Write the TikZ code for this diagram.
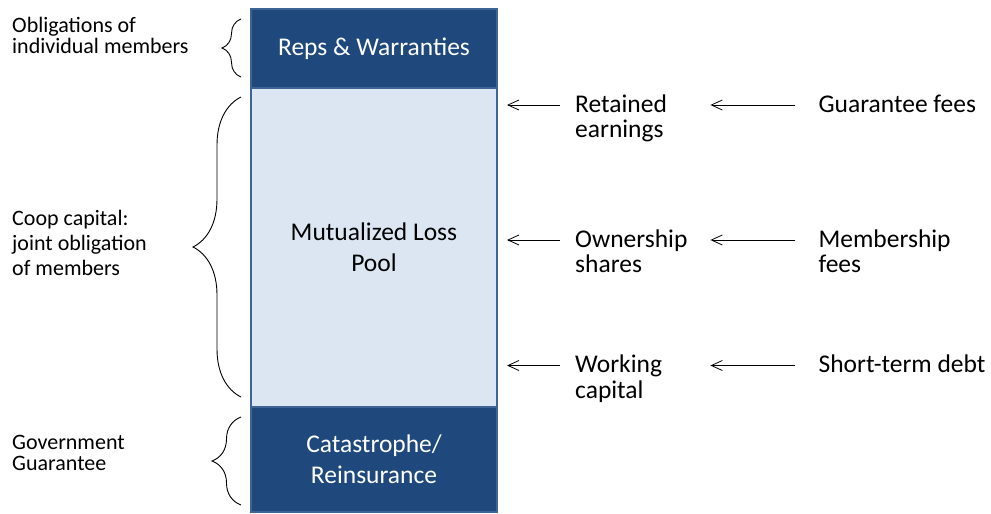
\documentclass[tikz,border=0pt]{standalone}
\usepackage{fontspec}
\setmainfont{Carlito}
\usetikzlibrary{positioning,decorations.pathreplacing,arrows.meta}
\definecolor{boxDark}{RGB}{31,73,125}
\definecolor{boxLine}{RGB}{62,100,150}
\definecolor{poolFill}{RGB}{220,230,242}
\begin{document}
\begin{tikzpicture}[x=1pt,y=-1pt,
    box/.style={draw=boxLine,line width=1.8pt,outer sep=0pt,minimum width=246pt,align=center,
      fill=boxDark,text=white,font=\fontsize{25.5}{31}\selectfont},
    pool/.style={box,fill=poolFill,text=black},
    side/.style={align=left,inner sep=0pt,anchor=north west,font=\fontsize{22}{21.5}\selectfont},
    src/.style={align=left,inner sep=0pt,anchor=north west,font=\fontsize{25.5}{25.5}\selectfont},
    feed/.style={-{Straight Barb[length=11pt,width=10pt]},line width=0.8pt},
    curly/.style={decorate,decoration={brace,amplitude=#1},line width=0.9pt}]
    \useasboundingbox (0,0) rectangle (991,514);

    \node[box,minimum height=79pt] (reps) at (374,48.5) {Reps \& Warranties};
    \node[pool,minimum height=319pt,below=0pt of reps] (pool) {Mutualized Loss\\Pool};
    \node[box,minimum height=105pt,below=0pt of pool] (cat) {Catastrophe/\\Reinsurance};

    \node[side] (oblig) at (12,17) {Obligations of\\individual members};
    \node[side,font=\fontsize{22}{25}\selectfont] (coop) at (12,210) {Coop capital:\\joint obligation\\of members};
    \node[side] (govt) at (12,435) {Government\\Guarantee};

    \draw[curly=19pt] ([xshift=-10pt,yshift=11pt]reps.south west) -- ([xshift=-10pt,yshift=-10pt]reps.north west);
    \draw[curly=48pt] ([xshift=-10pt,yshift=10pt]pool.south west) -- ([xshift=-10pt,yshift=-9pt]pool.north west);
    \draw[curly=29pt] ([xshift=-10pt,yshift=7pt]cat.south west) -- ([xshift=-10pt,yshift=-10pt]cat.north west);

    \node[src,text width=125pt] (retained) at (575,94.5) {Retained\\earnings};
    \node[src,text width=125pt] (ownership) at (575,229.5) {Ownership\\shares};
    \node[src,text width=125pt] (working) at (575,355) {Working\\capital};

    \node[src,right=118pt of retained.north east,anchor=north west] (gfees) {Guarantee fees};
    \node[src,right=118pt of ownership.north east,anchor=north west] (mfees) {Membership\\fees};
    \node[src,right=118pt of working.north east,anchor=north west] (debt) {Short-term debt};

    \draw[feed,shorten <=15pt,shorten >=10pt] ([yshift=-10.5pt]retained.north west) -- ([yshift=-10.5pt]pool.east |- retained.north west);
    \draw[feed,shorten <=15pt,shorten >=10pt] ([yshift=-10.5pt]ownership.north west) -- ([yshift=-10.5pt]pool.east |- ownership.north west);
    \draw[feed,shorten <=15pt,shorten >=10pt] ([yshift=-10.5pt]working.north west) -- ([yshift=-10.5pt]pool.east |- working.north west);

    \draw[feed,shorten <=23pt,shorten >=10pt] ([yshift=-10.5pt]gfees.north west) -- ([yshift=-10.5pt]retained.north east);
    \draw[feed,shorten <=23pt,shorten >=10pt] ([yshift=-10.5pt]mfees.north west) -- ([yshift=-10.5pt]ownership.north east);
    \draw[feed,shorten <=23pt,shorten >=10pt] ([yshift=-10.5pt]debt.north west) -- ([yshift=-10.5pt]working.north east);
\end{tikzpicture}
\end{document}
